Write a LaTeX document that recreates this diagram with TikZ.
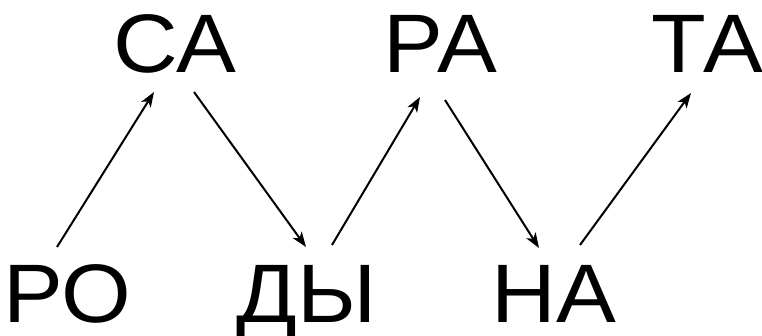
\documentclass[tikz,border=0pt]{standalone}
\usepackage{fontspec}
\setmainfont[FakeStretch=1.08]{Liberation Sans}
\usetikzlibrary{arrows.meta}

\tikzset{
    syll/.style={inner sep=0pt, anchor=base, font=\fontsize{83}{90}\selectfont},
    link/.style={-{Stealth[length=15pt,width=11pt,inset=4pt]}, line width=2pt}
}

\begin{document}
\begin{tikzpicture}[x=1pt,y=-1pt]
    % Frame of the picture
    \useasboundingbox (0,0) rectangle (762,336);

    % Upper syllables
    \node[syll] (sa) at (175,73) {СА};
    \node[syll] (ra) at (440,73) {РА};
    \node[syll] (ta) at (707,73) {ТА};

    % Lower syllables
    \node[syll] (ro) at (67,322) {РО};
    \node[syll] (dy) at (307,322) {ДЫ};
    \node[syll] (na) at (554,322) {НА};

    % Zigzag of arrows
    \draw[link] ([shift={(-10,-75)}]ro.base) -- ([shift={(-21,19)}]sa.base);
    \draw[link] ([shift={(19,19)}]sa.base) -- ([shift={(-1,-75)}]dy.base);
    \draw[link] ([shift={(25,-77)}]dy.base) -- ([shift={(-20,24)}]ra.base);
    \draw[link] ([shift={(5,27)}]ra.base) -- ([shift={(-15,-74)}]na.base);
    \draw[link] ([shift={(26,-77)}]na.base) -- ([shift={(-16,20)}]ta.base);
\end{tikzpicture}
\end{document}
